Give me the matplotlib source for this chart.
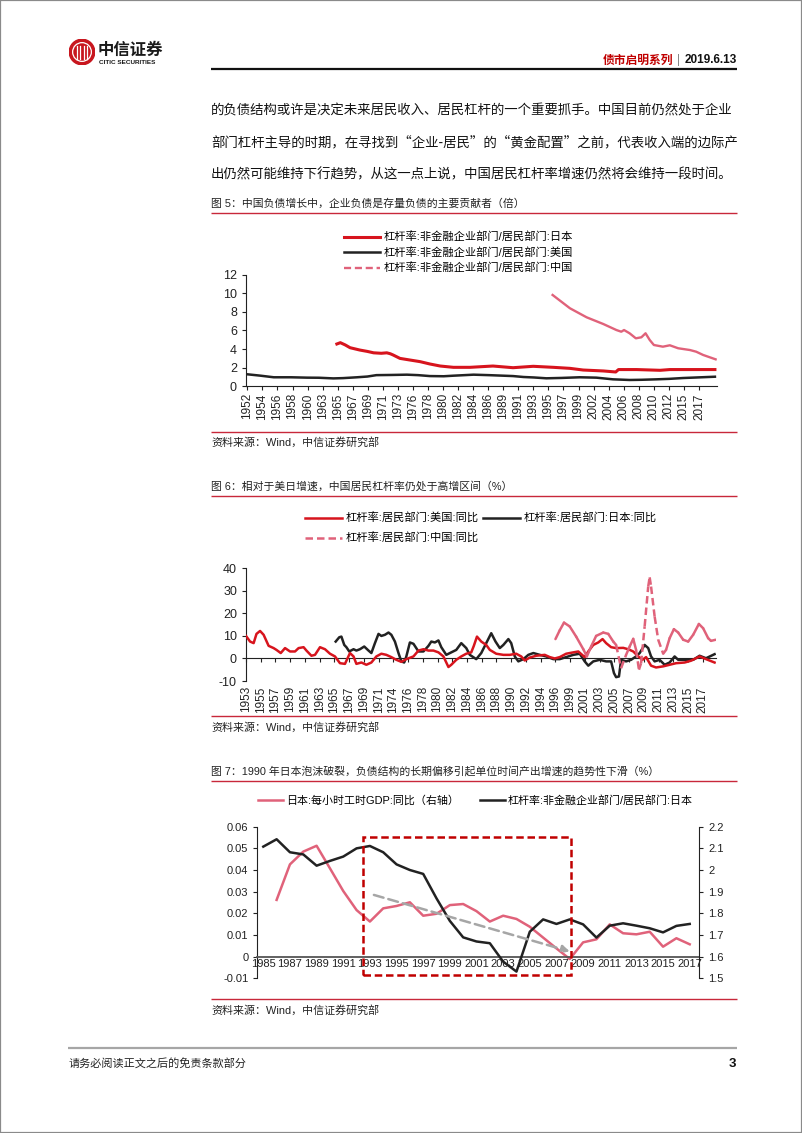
import matplotlib
matplotlib.use('Agg')
import matplotlib.pyplot as plt
import numpy as np
from matplotlib.lines import Line2D
from matplotlib.patches import Circle, Rectangle

plt.rcParams['font.family'] = ['Liberation Sans', 'Noto Sans CJK SC']
plt.rcParams['axes.unicode_minus'] = False

# ---------------- data ----------------
# Fig 5: 杠杆率 非金融企业部门/居民部门 (倍)
fig5_jp = [(1965.1, 4.55), (1965.6, 4.69), (1966.3, 4.45), (1967.0, 4.15), (1968.4, 3.9), (1969.5, 3.75),
           (1970.4, 3.6), (1971.5, 3.55), (1972.3, 3.6), (1972.8, 3.5), (1973.2, 3.37), (1974.2, 3.0),
           (1975.6, 2.83), (1977.1, 2.65), (1978.5, 2.4), (1980.0, 2.18), (1981.9, 2.04), (1984.3, 2.04),
           (1985.7, 2.1), (1987.6, 2.18), (1990.5, 2.0), (1993.4, 2.15), (1996.3, 2.04), (1998.7, 1.93),
           (2000.6, 1.75), (2003.5, 1.65), (2005.3, 1.54), (2005.7, 1.8), (2008.3, 1.8), (2011.7, 1.72),
           (2013.1, 1.8), (2019.6, 1.8)]
fig5_us = [(1952.0, 1.3), (1952.2, 1.29), (1954.0, 1.15), (1956.0, 0.97), (1958.5, 0.97), (1960.8, 0.93),
           (1962.5, 0.92), (1964.6, 0.85), (1966.0, 0.88), (1968.0, 0.97), (1969.5, 1.05), (1970.8, 1.2),
           (1973.0, 1.22), (1975.2, 1.25), (1976.8, 1.2), (1978.5, 1.1), (1980.5, 1.08), (1981.9, 1.14),
           (1983.5, 1.2), (1984.8, 1.25), (1987.0, 1.2), (1989.1, 1.14), (1990.5, 1.1), (1992.0, 1.0),
           (1993.5, 0.95), (1995.3, 0.86), (1997.5, 0.9), (2000.1, 0.97), (2002.5, 0.93), (2004.9, 0.75),
           (2007.3, 0.68), (2009.0, 0.7), (2011.2, 0.75), (2013.0, 0.8), (2015.0, 0.89), (2017.0, 0.95),
           (2019.6, 1.03)]
fig5_cn = [(1996.2, 9.82), (1998.7, 8.39), (2001.1, 7.42), (2003.5, 6.7), (2005.4, 6.05), (2006.1, 5.87),
           (2006.5, 6.05), (2007.3, 5.7), (2008.2, 5.16), (2009.0, 5.27), (2009.6, 5.7), (2010.2, 4.98),
           (2010.8, 4.44), (2012.1, 4.26), (2013.1, 4.41), (2014.3, 4.09), (2016.0, 3.9), (2016.9, 3.72),
           (2017.9, 3.37), (2019.7, 2.9)]
fig5_xlabels = ['1952', '1954', '1956', '1958', '1960', '1963', '1965', '1967', '1969', '1971', '1973',
                '1976', '1978', '1980', '1982', '1984', '1986', '1989', '1991', '1993', '1995', '1997',
                '1999', '2002', '2004', '2006', '2008', '2010', '2012', '2015', '2017']
fig5_names = ['杠杆率:非金融企业部门/居民部门:日本', '杠杆率:非金融企业部门/居民部门:美国',
              '杠杆率:非金融企业部门/居民部门:中国']

# Fig 6: 居民部门杠杆率同比 (%)
fig6_us = [(1953.63, 10.0), (1954.2, 7.5), (1954.7, 6.8), (1955.1, 10.9), (1955.6, 12.2), (1956.1, 10.5),
           (1956.8, 5.6), (1957.5, 4.6), (1957.9, 3.8), (1958.5, 2.4), (1959.1, 4.6), (1959.8, 3.1),
           (1960.5, 3.1), (1961.0, 4.6), (1961.7, 5.0), (1962.1, 3.5), (1962.8, 1.2), (1963.3, 1.6),
           (1964.0, 5.0), (1964.7, 4.1), (1965.4, 2.1), (1966.1, 0.9), (1966.8, -2.1), (1967.5, -2.4),
           (1968.2, 2.4), (1968.7, 0.9), (1969.1, -2.4), (1969.8, -1.8), (1970.5, -2.8), (1971.2, -1.8),
           (1971.9, 0.9), (1972.6, 2.1), (1973.3, 1.6), (1974.0, 0.6), (1974.7, -0.6), (1975.4, -1.5),
           (1976.1, -0.3), (1977.1, 0.9), (1977.8, 3.5), (1978.5, 4.1), (1979.2, 3.5), (1979.9, 3.5),
           (1980.6, 2.7), (1981.3, 0.9), (1982.0, -3.8), (1982.4, -2.8), (1983.1, -0.6), (1983.8, 0.9),
           (1984.5, 2.1), (1985.2, 2.7), (1985.56, 5.6), (1986.0, 9.7), (1986.6, 7.5), (1987.3, 6.0),
           (1987.8, 3.8), (1988.7, 2.1), (1989.7, 1.6), (1990.6, 1.6), (1991.5, 2.1), (1992.2, 0.9),
           (1992.7, -0.9), (1993.4, 0.4), (1994.3, 1.2), (1995.5, 1.6), (1996.2, 0.6), (1996.9, 0.0),
           (1997.6, 0.6), (1998.5, 2.1), (1999.5, 2.7), (2000.2, 3.1), (2001.1, 0.6), (2001.6, 3.1),
           (2002.3, 6.0), (2003.0, 7.1), (2003.6, 8.6), (2004.1, 6.8), (2004.8, 5.0), (2005.5, 4.6),
           (2006.5, 4.7), (2007.2, 4.1), (2007.9, 3.1), (2008.6, 0.9), (2009.2, -0.6), (2009.7, 0.6),
           (2010.4, -3.2), (2011.1, -4.0), (2012.1, -3.5), (2013.0, -2.8), (2013.9, -2.1), (2015.1, -1.8),
           (2016.0, -1.0), (2017.2, 0.9), (2018.1, -0.3), (2019.3, -1.8)]
fig6_jp = [(1966.2, 7.5), (1966.7, 9.4), (1967.0, 9.7), (1967.4, 6.0), (1967.7, 5.0), (1968.1, 3.1),
           (1968.7, 4.1), (1969.1, 3.5), (1969.6, 4.1), (1970.2, 5.3), (1970.8, 3.5), (1971.2, 2.4),
           (1971.7, 6.8), (1972.2, 10.9), (1972.6, 10.0), (1973.1, 10.5), (1973.6, 11.5), (1974.0, 10.5),
           (1974.5, 7.5), (1975.0, 2.4), (1975.4, -1.3), (1975.8, -1.8), (1976.1, 0.9), (1976.6, 7.1),
           (1977.1, 6.5), (1977.8, 3.1), (1978.5, 3.1), (1979.2, 5.6), (1979.6, 7.5), (1980.1, 7.1),
           (1980.6, 8.0), (1981.0, 5.0), (1981.7, 1.6), (1982.4, 2.7), (1983.1, 3.8), (1983.8, 6.8),
           (1984.5, 4.6), (1985.0, 1.6), (1985.9, -0.3), (1986.6, 2.4), (1987.3, 6.8), (1988.0, 11.2),
           (1988.6, 7.5), (1989.2, 4.6), (1989.7, 6.0), (1990.4, 8.6), (1990.8, 6.8), (1991.3, 0.9),
           (1991.8, -1.3), (1992.5, -0.3), (1993.2, 1.6), (1993.9, 2.4), (1994.8, 1.6), (1995.7, 0.9),
           (1996.7, -0.3), (1997.6, -0.3), (1998.5, 0.6), (1999.5, 1.6), (2000.4, 2.1), (2001.1, -1.3),
           (2001.6, -3.2), (2002.3, -1.3), (2003.2, -0.6), (2004.1, -1.3), (2004.8, -1.3), (2005.2, -6.5),
           (2005.5, -8.3), (2005.9, -8.0), (2006.2, -0.6), (2006.9, -1.3), (2007.6, -0.6), (2008.3, 0.9),
           (2008.8, 2.4), (2009.5, 6.0), (2010.0, 4.6), (2010.4, 0.9), (2010.9, -1.3), (2011.6, -0.6),
           (2012.3, -2.8), (2013.0, -1.8), (2013.7, 0.9), (2014.2, -0.6), (2015.3, -0.6), (2016.3, -0.6),
           (2017.2, 1.2), (2018.1, 0.1), (2019.3, 1.9)]
fig6_cn = [(1997.0, 8.6), (1997.6, 12.5), (1998.2, 15.9), (1999.0, 14.2), (1999.9, 9.7), (2000.9, 4.1),
           (2001.4, 0.9), (2002.0, 5.3), (2002.7, 10.0), (2003.7, 11.5), (2004.4, 10.9), (2005.1, 7.5),
           (2005.5, 6.0), (2006.2, -4.3), (2006.9, 1.6), (2007.4, 5.3), (2007.9, 8.7), (2008.3, 3.8),
           (2008.7, -5.0), (2009.0, -2.1), (2009.5, 14.2), (2010.0, 31.9), (2010.2, 36.0), (2010.4, 31.9),
           (2010.9, 18.6), (2011.4, 8.3), (2012.1, 2.1), (2012.5, 3.8), (2013.0, 9.0), (2013.6, 13.0),
           (2014.2, 11.5), (2014.9, 8.3), (2015.6, 7.5), (2016.3, 10.5), (2017.1, 15.3), (2017.7, 13.4),
           (2018.4, 9.0), (2018.8, 7.8), (2019.45, 8.3)]
fig6_cn_dashed_spans = [(2005.5, 2006.9), (2008.3, 2012.1)]
fig6_xlabels = ['1953', '1955', '1957', '1959', '1961', '1963', '1965', '1967', '1969', '1971', '1974',
                '1976', '1978', '1980', '1982', '1984', '1986', '1988', '1990', '1992', '1994', '1996',
                '1999', '2001', '2003', '2005', '2007', '2009', '2011', '2013', '2015', '2017']
fig6_names = ['杠杆率:居民部门:美国:同比', '杠杆率:居民部门:日本:同比', '杠杆率:居民部门:中国:同比']

# Fig 7
fig7_years = list(range(1985, 2018))
fig7_gdp = [np.nan, 0.0262, 0.0426, 0.0485, 0.0512, 0.0408, 0.0303, 0.0215, 0.0162, 0.0223, 0.0234,
            0.0251, 0.0189, 0.0198, 0.0238, 0.0243, 0.021, 0.0162, 0.0189, 0.0174, 0.0138, 0.0088,
            0.0038, -0.0011, 0.0066, 0.008, 0.0149, 0.0108, 0.0103, 0.0115, 0.0046, 0.0085, 0.0057]
fig7_lev = [2.108, 2.142, 2.082, 2.072, 2.02, 2.042, 2.062, 2.1, 2.111, 2.082, 2.026, 2.0, 1.982, 1.869,
            1.765, 1.689, 1.67, 1.662, 1.577, 1.531, 1.715, 1.772, 1.751, 1.772, 1.749, 1.688, 1.743,
            1.754, 1.743, 1.731, 1.712, 1.742, 1.751]
fig7_names = ['日本:每小时工时GDP:同比（右轴）', '杠杆率:非金融企业部门/居民部门:日本']
fig7_box_years = (1992.5, 2008.1)
fig7_box_range = (-0.0086, 0.0554)
fig7_trend = [(1993.3, 0.0285), (2008.0, 0.0024)]

body_lines = ['的负债结构或许是决定未来居民收入、居民杠杆的一个重要抓手。中国目前仍然处于企业',
              '部门杠杆主导的时期，在寻找到“企业-居民”的“黄金配置”之前，代表收入端的边际产',
              '出仍然可能维持下行趋势，从这一点上说，中国居民杠杆率增速仍然将会维持一段时间。']
captions = ['图 5：中国负债增长中，企业负债是存量负债的主要贡献者（倍）',
            '图 6：相对于美日增速，中国居民杠杆率仍处于高增区间（%）',
            '图 7：1990 年日本泡沫破裂，负债结构的长期偏移引起单位时间产出增速的趋势性下滑（%）']
source_text = '资料来源：Wind，中信证券研究部'

# ---------------- style ----------------
RED = '#d7141d'
BLACK = '#222222'
PINK = '#e0627a'
DARKRED = '#c00000'
CAPLINE = '#c8283a'

W, H = 802, 1133
fig = plt.figure(figsize=(W / 100, H / 100), dpi=100)


def fx(x):
    return x / W


def fy(y):
    return 1 - y / H


def text(x, y, s, size, color='#111111', ha='left', va='center', weight='normal', family=None):
    kw = {}
    if family is not None:
        kw['family'] = family
    return fig.text(fx(x), fy(y), s, fontsize=size, color=color, ha=ha, va=va, weight=weight, **kw)


def hline(x0, x1, y, color, lw):
    fig.add_artist(Line2D([fx(x0), fx(x1)], [fy(y), fy(y)], transform=fig.transFigure,
                          color=color, lw=lw, solid_capstyle='butt'))


# page frame
fig.add_artist(Rectangle((0, 0), 1, 1, transform=fig.transFigure, fill=False, ec='#8a8a8a', lw=1.6))

# logo
axl = fig.add_axes([fx(69), fy(65), 26 / W, 26 / H])
axl.set_xlim(-1, 1)
axl.set_ylim(-1, 1)
axl.axis('off')
axl.add_patch(Circle((0, 0), 0.98, color='#c8161e'))
axl.add_patch(Circle((0, 0), 0.72, fill=False, ec='white', lw=0.9))
for xb in (-0.38, -0.12, 0.12, 0.38):
    axl.plot([xb, xb], [-0.5, 0.5], color='white', lw=0.9)
text(98, 50, '中信证券', 11.8, color='#1a1a1a', weight='bold', family=['Noto Sans CJK SC'])
text(99, 62.5, 'CITIC SECURITIES', 4.6, color='#1a1a1a', weight='bold')

# header
text(737, 60, '2019.6.13', 8.5, color='#111111', ha='right', weight='bold')
text(679, 60, '|', 8.5, color='#888888', ha='center')
text(673, 60, '债市启明系列', 8.5, color='#c00000', ha='right', weight='bold', family=['Noto Sans CJK SC'])
hline(211, 737, 68.5, '#111111', 1.6)

# body
for i, line in enumerate(body_lines):
    text(211, 110 + 32 * i, line, 9.65, color='#111111', family=['Noto Sans CJK SC'])

# captions and source lines
cap_y = [204, 487, 771.5]
src_y = [431.5, 716, 999]
for cy, cap in zip(cap_y, captions):
    text(211, cy, cap, 7.8, color='#222222')
    hline(211, 737, cy + 9, CAPLINE, 1.0)
for sy in src_y:
    hline(211, 737, sy, CAPLINE, 1.0)
    text(211, sy + 11, source_text, 7.9, color='#222222')

# footer
hline(68, 737, 1048, '#a6a6a6', 1.6)
text(69, 1063, '请务必阅读正文之后的免责条款部分', 8.0, color='#222222', family=['Noto Sans CJK SC'])
text(736, 1064, '3', 9.5, color='#111111', ha='right', weight='bold')


def style_axes(ax, size):
    ax.spines['top'].set_visible(False)
    ax.spines['right'].set_visible(False)
    ax.spines['left'].set_color('#222222')
    ax.spines['bottom'].set_color('#222222')
    ax.tick_params(axis='both', direction='out', length=3, width=0.8, colors='#222222', labelsize=size)
    ax.patch.set_alpha(0)


# ---------------- Fig 5 ----------------
ax1 = fig.add_axes([fx(246), fy(386.3), (717 - 246) / W, (386.3 - 274.7) / H])
style_axes(ax1, 9)
jx, jy = zip(*fig5_jp)
ux, uy = zip(*fig5_us)
cx, cy = zip(*fig5_cn)
l_jp, = ax1.plot(jx, jy, color=RED, lw=2.2)
l_us, = ax1.plot(ux, uy, color=BLACK, lw=1.8)
ax1.plot(cx, cy, color=PINK, lw=1.7)
cn_proxy = Line2D([], [], color=PINK, lw=1.7, ls=(0, (3, 1.6)))
ax1.set_xlim(1952.0, 2019.9)
ax1.set_ylim(0, 12)
ax1.set_yticks(range(0, 13, 2))
ax1.set_xticks(1952.2 + 2.17 * np.arange(len(fig5_xlabels)), fig5_xlabels, rotation=90)
ax1.tick_params(axis='x', labelsize=8.5, pad=2)
ax1.legend([l_jp, l_us, cn_proxy], fig5_names, loc='upper left', bbox_to_anchor=(fx(344), fy(231.5)),
           bbox_transform=fig.transFigure, frameon=False, fontsize=8.1, handlelength=3.2,
           handletextpad=0.35, labelspacing=0.42, borderpad=0, borderaxespad=0)

# ---------------- Fig 6 ----------------
ax2 = fig.add_axes([fx(246), fy(681), (716 - 246) / W, (681 - 568.3) / H])
style_axes(ax2, 9)
ax2.spines['bottom'].set_position(('data', 0))
ux, uy = zip(*fig6_us)
jx, jy = zip(*fig6_jp)
l6_us, = ax2.plot(ux, uy, color=RED, lw=1.8, zorder=3)
l6_jp, = ax2.plot(jx, jy, color=BLACK, lw=1.8, zorder=2)
# China: solid where observed, dashed through the marked spans
l6_cn = None
for i in range(len(fig6_cn) - 1):
    (x0, y0), (x1, y1) = fig6_cn[i], fig6_cn[i + 1]
    mid = 0.5 * (x0 + x1)
    dashed = any(a <= mid <= b for a, b in fig6_cn_dashed_spans)
    ln, = ax2.plot([x0, x1], [y0, y1], color=PINK, lw=1.8, zorder=4,
                   ls=(0, (3, 1.6)) if dashed else '-', solid_capstyle='round')
    if dashed and l6_cn is None:
        l6_cn = ln
ax2.set_xlim(1953.63, 2019.5)
ax2.set_ylim(-10, 40)
ax2.set_yticks(range(-10, 41, 10))
ax2.set_xticks(1953.63 + 2.065 * np.arange(len(fig6_xlabels)), fig6_xlabels, rotation=90)
ax2.tick_params(axis='x', labelsize=8.5, pad=17)
ax2.legend([l6_us, l6_cn, l6_jp], [fig6_names[0], fig6_names[2], fig6_names[1]], ncol=2,
           loc='upper left', bbox_to_anchor=(fx(305), fy(513)), bbox_transform=fig.transFigure,
           frameon=False, fontsize=8.1, handlelength=3.3, handletextpad=0.35, labelspacing=0.78,
           columnspacing=0.3, borderpad=0, borderaxespad=0)

# ---------------- Fig 7 ----------------
ax3 = fig.add_axes([fx(257.3), fy(978.3), (699.3 - 257.3) / W, (978.3 - 826.7) / H])
style_axes(ax3, 8)
ax3.spines['bottom'].set_position(('data', 0))
ax3.spines['bottom'].set_color('#555555')
ax3.spines['bottom'].set_linewidth(1.3)
ax3r = ax3.twinx()
ax3r.spines['top'].set_visible(False)
ax3r.spines['left'].set_visible(False)
ax3r.spines['bottom'].set_visible(False)
ax3r.spines['right'].set_color('#222222')
ax3r.tick_params(axis='y', direction='out', length=3, width=0.8, colors='#222222', labelsize=8)
l7_gdp, = ax3.plot(fig7_years, fig7_gdp, color=PINK, lw=1.8)
l7_lev, = ax3r.plot(fig7_years, fig7_lev, color=BLACK, lw=1.8)
ax3.set_xlim(1984.55, 2017.72)
ax3.set_ylim(-0.01, 0.06)
ax3.set_yticks(np.arange(-0.01, 0.061, 0.01), ['-0.01', '0', '0.01', '0.02', '0.03', '0.04', '0.05', '0.06'])
ax3r.set_ylim(1.5, 2.2)
ax3r.set_yticks(np.arange(1.5, 2.21, 0.1), ['1.5', '1.6', '1.7', '1.8', '1.9', '2', '2.1', '2.2'])
ax3.set_xticks(fig7_years[::2], [str(y) for y in fig7_years[::2]])
ax3.tick_params(axis='x', length=0, pad=2, labelsize=8)
bx0, bx1 = fig7_box_years
by0, by1 = fig7_box_range
ax3r.add_patch(Rectangle((bx0, by0), bx1 - bx0, by1 - by0, transform=ax3.transData, fill=False,
                         ec=DARKRED, lw=1.8, ls=(0, (3, 1.5)), zorder=5))
(tx0, ty0), (tx1, ty1) = fig7_trend
ax3r.annotate('', xy=(tx1, ty1), xytext=(tx0, ty0), xycoords=ax3.transData, textcoords=ax3.transData,
              arrowprops=dict(arrowstyle='-|>', color='#a6a6a6', lw=1.8, ls=(0, (4, 2)),
                              mutation_scale=11, shrinkA=0, shrinkB=0), zorder=6)
ax3.legend([l7_gdp, l7_lev], fig7_names, ncol=2, loc='upper left', bbox_to_anchor=(fx(258), fy(795.5)),
           bbox_transform=fig.transFigure, frameon=False, fontsize=7.9, handlelength=2.3,
           handletextpad=0.25, columnspacing=1.9, borderpad=0, borderaxespad=0)

fig.savefig('out.png', dpi=100)
